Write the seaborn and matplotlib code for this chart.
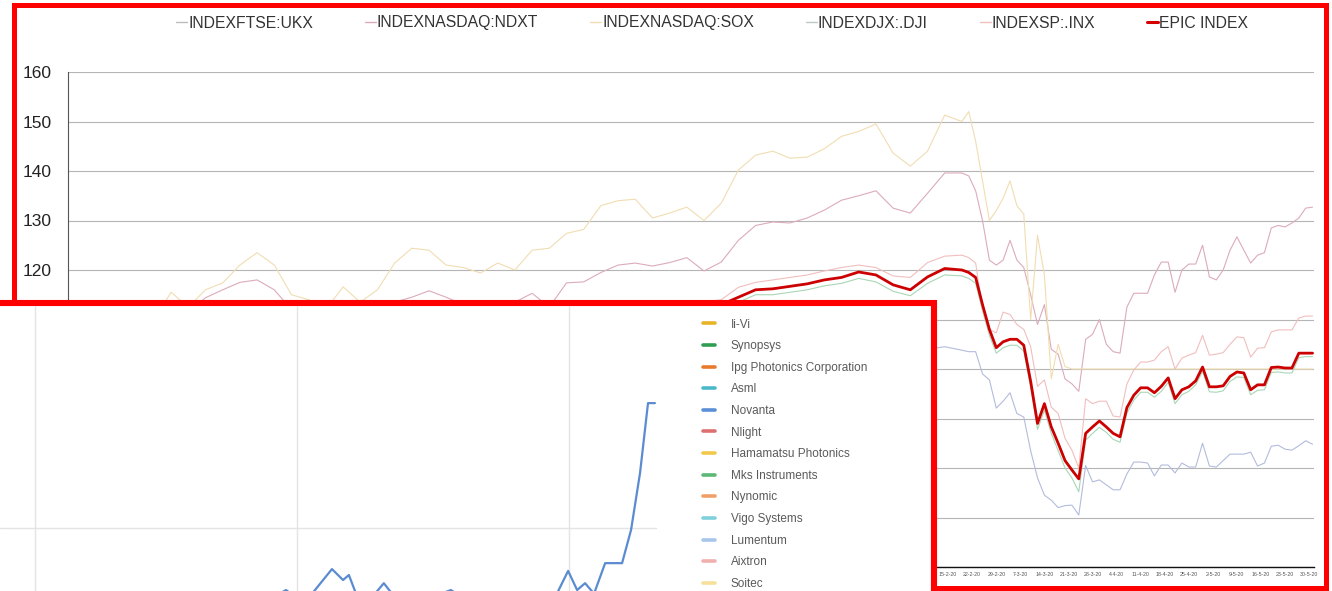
import pandas as pd
import seaborn as sns
import matplotlib.pyplot as plt
from matplotlib.lines import Line2D
from matplotlib.patches import Rectangle

W, H = 1332, 591

# one value every 5 days up to 19-2-20, then every 2 days up to 31-5-20
dates = list(pd.date_range('2019-06-04', periods=53, freq='5D')) + \
    list(pd.date_range('2020-02-21', '2020-05-31', freq='2D'))

ukx = [100, 102, 102.5, 103, 104, 104, 104.5, 104, 104.5, 105,
       105.5, 104, 100.5, 99.5, 99, 98, 99.5, 99, 100.5, 101,
       101.5, 101.5, 102.5, 101, 99.5, 99.5, 99.5, 100.5, 100, 101,
       100.5, 101.5, 102, 101.5, 100.5, 101.5, 101.5, 101, 101.5, 104,
       105, 105.5, 106, 105.5, 105.5, 105, 103.5, 103.5, 102.5, 101.5,
       104, 104.5, 103.8,
       103.5, 103.5, 99, 97.8, 92.1, 93.5, 95.2, 91, 90.3, 83.5,
       78, 74.5, 73.5, 72, 72.4, 72.5, 70.5, 80.5, 77.2, 77.6,
       76.6, 75.6, 75.6, 78.8, 81.2, 81.2, 81, 78.4, 80.6, 80.6,
       79, 81, 80.2, 80.2, 85, 80.4, 80.2, 81.5, 82.8, 82.8,
       82.8, 83.2, 80.4, 81, 84.4, 84.6, 83.8, 83.6, 84.5, 85.5,
       84.8]

ndxt = [100, 102, 104, 105, 106, 107.5, 109, 111.5, 114.4, 116,
        117.5, 118, 116, 112, 110.5, 110, 111.5, 110.5, 111, 113.5,
        114.5, 115.8, 114.5, 113, 112, 111.5, 113.5, 115.3, 112.5, 117.4,
        117.6, 119.5, 121, 121.4, 120.8, 121.5, 122.5, 119.8, 121.6, 126,
        129, 129.7, 129.5, 130.5, 132.1, 134.1, 135, 136, 132.5, 131.5,
        135.5, 139.6, 139.6,
        139, 136, 130, 122, 121, 122, 126, 122, 120.5, 115,
        109, 113, 104, 103, 98, 97, 95.5, 106, 107, 110,
        105, 103.5, 103.2, 112.5, 115.3, 115.3, 115.3, 119, 121.6, 121.6,
        115.5, 120, 121.2, 121.2, 125, 118.6, 118, 120, 124, 126.7,
        124, 121.4, 123, 123.5, 128.5, 129, 128.7, 129.5, 130.5, 132.5,
        132.7]

sox = [100, 102.5, 105, 107, 108.5, 110, 115.5, 112.5, 116, 117.4,
       121, 123.5, 121, 115, 114, 112, 116.6, 113.5, 116, 121.4,
       124.4, 124, 121, 120.5, 119.4, 121.4, 120, 124, 124.4, 127.4,
       128.2, 133, 134, 134.3, 130.5, 131.5, 132.7, 130, 133.5, 140.2,
       143.2, 144, 142.6, 142.8, 144.5, 147, 148, 149.5, 143.6, 141,
       144, 151.3, 150,
       152, 146, 138, 130, 132, 134.5, 138, 133, 131.3, 110,
       127, 119, 98, 105, 100.5, 100, 100, 100, 100, 100,
       100, 100, 100, 100, 100, 100, 100, 100, 100, 100,
       100, 100, 100, 100, 100, 100, 100, 100, 100, 100,
       100, 100, 100, 100, 100, 100, 100, 100, 100, 100,
       100]

dji = [100, 102, 103, 104.5, 106, 106.5, 108, 108.5, 109.5, 109.5,
       109.5, 108, 104.5, 103, 104, 103, 104.5, 104, 105.5, 107.5,
       108.5, 108, 108, 107, 105, 106, 107, 107.5, 109, 109.5,
       110, 111.5, 112, 112, 111, 112, 112.5, 112, 112.5, 113.5,
       115, 115, 115.5, 116, 116.8, 117.3, 118.3, 117.6, 115.7, 114.8,
       117.3, 119, 118.8,
       118.3, 117.3, 111.8, 106.8, 103.2, 104.3, 104.8, 104.8, 103.6, 96.3,
       87.8, 91.7, 87, 83.5, 80, 78, 75.2, 85.6, 87, 88.2,
       87.2, 85.8, 85.2, 91.1, 93.7, 95.3, 95.3, 94.3, 95.5, 97.3,
       93, 94.8, 95.5, 96.8, 99.5, 95.4, 95.3, 95.6, 97.5, 98.4,
       98.3, 94.8, 95.7, 95.8, 99.3, 99.4, 99.2, 99.2, 102.3, 102.5,
       102.5]

inx = [100, 103, 104.5, 106, 107.5, 108, 109.5, 110, 111, 111.5,
       111, 110, 106, 104.5, 106, 104.5, 106.5, 105.5, 107, 109,
       110, 109.5, 109.5, 108.5, 106.5, 107.5, 108.5, 109.5, 110.5, 111,
       112, 113, 113.5, 113.5, 113, 113.5, 113.5, 113.5, 114, 116.5,
       117.5, 118, 118.5, 119, 119.8, 120.5, 121, 120.5, 118.8, 118.5,
       121.5, 122.8, 123,
       122.5, 121.4, 112, 108, 107.3, 111.5, 111, 109, 108, 104.5,
       96.5, 97.8, 92.3, 91, 86, 83.6, 80, 94, 93, 93.5,
       93.5, 90.5, 90.3, 97, 99.8, 101.4, 101.4, 101.8, 103.5, 104.5,
       100, 102.2, 102.8, 103.3, 106.8, 102.8, 103, 103.3, 105, 106.5,
       106.3, 102.4, 104.2, 104.3, 107.5, 107.9, 107.9, 107.9, 110.3, 110.7,
       110.7]

epic = [100, 102.5, 104, 105, 106.5, 107, 108.5, 109, 110, 110.5,
        110.5, 109.5, 106, 104, 105, 104, 105.5, 104.5, 106, 108.5,
        109.5, 109.5, 109, 108, 106.5, 107.5, 108, 108.5, 110, 110.5,
        111, 112.5, 113, 113, 112.5, 113, 113, 113, 113, 114.5,
        116, 116.2, 116.7, 117.2, 118, 118.5, 119.6, 119, 117, 116,
        118.6, 120.3, 120,
        119.5, 118.5, 113, 108, 104.3, 105.5, 106, 106, 104.8, 97.5,
        89, 93, 88.3, 85, 81.5, 79.6, 77.8, 87, 88.3, 89.5,
        88.3, 87, 86.3, 92.2, 94.7, 96.2, 96.2, 95.2, 96.5, 98.2,
        94, 95.8, 96.4, 97.6, 100.4, 96.4, 96.4, 96.6, 98.5, 99.4,
        99.2, 95.8, 96.8, 96.8, 100.3, 100.4, 100.2, 100.2, 103.2, 103.2,
        103.2]

series_names = ['INDEXFTSE:UKX', 'INDEXNASDAQ:NDXT', 'INDEXNASDAQ:SOX',
                'INDEXDJX:.DJI', 'INDEXSP:.INX', 'EPIC INDEX']
line_colors = ['#b3bcdc', '#dcabbb', '#f1ddb2', '#a9d6b6', '#f1bebe', '#cc0000']
legend_colors = ['#bdbdbd', '#dcabbb', '#f1ddb2', '#bccbbf', '#f1bebe', '#d40000']

# screenshot pasted over the lower left part
inset_names = ['Ii-Vi', 'Synopsys', 'Ipg Photonics Corporation', 'Asml', 'Novanta',
               'Nlight', 'Hamamatsu Photonics', 'Mks Instruments', 'Nynomic',
               'Vigo Systems', 'Lumentum', 'Aixtron', 'Soitec']
inset_colors = ['#e8b326', '#2f9e52', '#e87a2c', '#4bb8c9', '#5b8fd6', '#de6f6f',
                '#f2c94c', '#5cb877', '#f0a066', '#7ed0db', '#a7c6ec', '#f0b0b0', '#f7e09a']
novanta_x = [0, 25, 50, 70, 82.7, 88, 96.0, 99.2, 100.9, 103.5, 108, 111, 114, 122, 130.4,
             136, 145, 155, 160, 164.3, 166.9, 169.2, 171.8, 175.0, 179.9, 182.5, 185.1,
             187.4, 189.4]
novanta_y = [24, 27, 29, 31, 36.4, 33.5, 41.0, 38.6, 39.7, 34.5, 35.2, 37.9, 35, 34, 36.4,
             33.5, 34.5, 33, 34, 40.6, 36.4, 37.9, 35.6, 42.3, 42.3, 49.6, 62.1, 77.4, 77.4]


def fx(px):
    return px / W


def fy(py):
    return 1 - py / H


sns.set_theme(style='white')
plt.rcParams['font.family'] = ['Liberation Sans', 'DejaVu Sans']

df = pd.DataFrame({'date': dates, 'INDEXFTSE:UKX': ukx, 'INDEXNASDAQ:NDXT': ndxt,
                   'INDEXNASDAQ:SOX': sox, 'INDEXDJX:.DJI': dji,
                   'INDEXSP:.INX': inx, 'EPIC INDEX': epic})
long_df = df.melt(id_vars='date', var_name='series', value_name='value')

fig = plt.figure(figsize=(W / 100, H / 100), dpi=100)
fig.patch.set_facecolor('white')

ax = fig.add_axes([fx(68), fy(567), fx(1314) - fx(68), fy(72) - fy(567)])
ax.set_zorder(0)
sns.lineplot(data=long_df, x='date', y='value', hue='series', hue_order=series_names,
             palette=dict(zip(series_names, line_colors)),
             size='series', size_order=series_names,
             sizes={n: (2.0 if n == 'EPIC INDEX' else 0.8) for n in series_names},
             legend=False, ax=ax)

ax.set_ylim(60, 160)
ax.set_yticks(range(60, 161, 10))
ax.set_xlim(pd.Timestamp('2019-06-04'), pd.Timestamp('2020-05-31 10:00'))
ax.grid(axis='y', color='#b5b5b5', lw=0.8)
ax.grid(axis='x', visible=False)
for s in ['top', 'right']:
    ax.spines[s].set_visible(False)
ax.spines['left'].set_color('#555555')
ax.spines['left'].set_linewidth(0.8)
ax.spines['bottom'].set_color('#111111')
ax.spines['bottom'].set_linewidth(1.0)
ax.set_xlabel('')
ax.set_ylabel('')

week_ticks = pd.date_range(end='2020-05-30', periods=52, freq='7D')
ax.set_xticks(week_ticks)
ax.set_xticklabels([f"{d.day}-{d.month}-{d.strftime('%y')}" for d in week_ticks])
ax.tick_params(axis='x', length=0, pad=3.5, labelsize=3.8, labelcolor='#555555')
ax.tick_params(axis='y', length=0, pad=11.5, labelsize=12.5, labelcolor='#222222')

handles = [Line2D([], [], color=c, lw=(2.2 if n == 'EPIC INDEX' else 1.0))
           for n, c in zip(series_names, legend_colors)]
leg = fig.legend(handles, series_names, loc='center left',
                 bbox_to_anchor=(fx(176), fy(23)), ncol=6, frameon=False,
                 fontsize=11.3, handlelength=0.72, handletextpad=0.05,
                 columnspacing=3.3, borderpad=0, borderaxespad=0)
for t in leg.get_texts():
    t.set_color('#333333')

# red frame round the main chart
fig.add_artist(Rectangle((fx(14.5), fy(587.5)), fx(1325.5) - fx(14.5), fy(5) - fy(587.5),
                         transform=fig.transFigure, fill=False, edgecolor='#ff0000',
                         lw=3.6, zorder=0.5))

# pasted screenshot with its own red frame
fig.add_artist(Rectangle((fx(-20), fy(640)), fx(934) - fx(-20), fy(303) - fy(640),
                         transform=fig.transFigure, facecolor='white', edgecolor='#ff0000',
                         lw=4.4, zorder=1))

ax_in = fig.add_axes([0, fy(756), fx(657), fy(306) - fy(756)])
ax_in.set_zorder(2)
ax_in.patch.set_alpha(0)
sns.lineplot(x=novanta_x, y=novanta_y, ax=ax_in, color='#5b8bd0', lw=1.6)
ax_in.set_xlim(0, 190)
ax_in.set_ylim(0, 98.7)
ax_in.set_xticks([10.1, 85.9, 164.5])
ax_in.set_yticks([0, 50])
ax_in.grid(True, color='#e4e4e4', lw=1.0)
ax_in.tick_params(length=0, labelbottom=False, labelleft=False)
for s in ax_in.spines.values():
    s.set_visible(False)

in_handles = [Line2D([], [], color=c, lw=2.6) for c in inset_colors]
leg2 = ax_in.legend(in_handles, inset_names, loc='upper left',
                    bbox_to_anchor=(fx(703), fy(318.5)), bbox_transform=fig.transFigure,
                    frameon=False, fontsize=8.5, handlelength=1.05, handletextpad=1.3,
                    labelspacing=0.815, borderpad=0, borderaxespad=0)
for t in leg2.get_texts():
    t.set_color('#5a5a5a')

fig.savefig('out.png', dpi=100)
